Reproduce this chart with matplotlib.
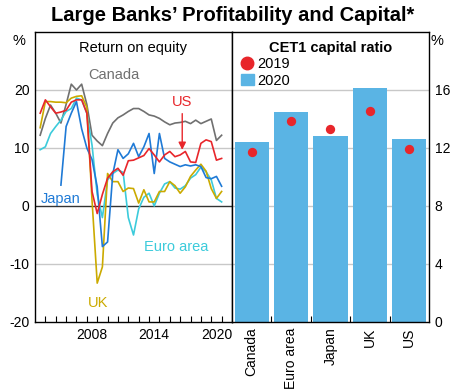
import numpy as np
import matplotlib.pyplot as plt
from matplotlib.lines import Line2D
from matplotlib.patches import Patch

plt.rcParams['font.family'] = ['Liberation Sans', 'DejaVu Sans']

# half-yearly return on equity, %
dates = np.arange(2003.5, 2021.01, 0.5)
canada = [12.2, 15.1, 17.4, 16.0, 14.3, 17.5, 21.0, 20.0, 21.0, 17.5, 12.2, 11.2,
          10.4, 12.5, 14.3, 15.2, 15.7, 16.3, 16.8, 16.8, 16.3, 15.7, 15.5, 15.1,
          14.5, 14.0, 14.3, 14.4, 14.6, 14.2, 14.8, 14.2, 14.6, 15.0, 11.3, 12.2]
us = [16.0, 18.3, 17.1, 16.0, 16.2, 16.5, 17.9, 18.3, 18.3, 16.0, 2.5, -1.3,
      2.0, 4.8, 5.9, 6.5, 5.3, 7.8, 7.9, 8.3, 8.7, 9.9, 8.8, 7.6,
      8.8, 9.4, 8.5, 8.8, 9.4, 7.6, 7.5, 10.8, 11.4, 11.1, 7.9, 8.2]
japan = [np.nan, np.nan, np.nan, np.nan, 3.6, 13.7, 16.0, 18.0, 13.3, 10.0, 8.0, 3.3,
         -7.0, -6.2, 5.5, 9.7, 8.2, 9.0, 10.8, 8.5, 10.2, 12.5, 5.6, 12.5,
         8.2, 7.6, 7.2, 6.8, 7.1, 6.9, 7.1, 6.8, 4.9, 4.7, 5.1, 3.4]
euro = [9.7, 10.2, 12.5, 13.7, 14.8, 16.3, 16.8, 18.6, 18.3, 16.0, 10.5, 2.0,
        -2.0, 4.5, 5.6, 6.2, 5.8, -2.0, -5.0, -0.5, 1.5, 2.2, 0.0, 2.2,
        3.8, 4.2, 3.1, 2.9, 3.5, 4.8, 5.4, 6.7, 5.9, 4.5, 1.3, 0.7]
uk = [13.5, 18.0, 18.0, 17.9, 17.9, 17.8, 18.6, 18.9, 19.0, 17.0, 1.0, -13.3,
      -10.5, 5.6, 4.2, 4.2, 2.5, 3.1, 3.0, 0.5, 2.8, 0.7, 0.7, 2.5,
      2.5, 4.2, 3.5, 2.2, 3.3, 5.1, 6.2, 7.2, 6.0, 3.0, 1.3, 2.5]

# CET1 capital ratio, %
countries = ['Canada', 'Euro area', 'Japan', 'UK', 'US']
cet1_2019 = [11.7, 13.85, 13.3, 14.55, 11.9]
cet1_2020 = [12.4, 14.45, 12.8, 16.15, 12.65]

c_canada = '#707070'
c_us = '#e8262b'
c_japan = '#1f7ad6'
c_euro = '#3ccbdb'
c_uk = '#cbaa00'
c_bar = '#5ab4e4'
c_grid = '#c8c8c8'

fig = plt.figure(figsize=(4.51, 3.91), dpi=100)
fig.text(0.515, 0.96, 'Large Banks\u2019 Profitability and Capital*', ha='center', va='center',
         fontsize=14.5, fontweight='bold')

ax1 = fig.add_axes([0.0776, 0.1765, 0.4368, 0.7417])
ax2 = fig.add_axes([0.5144, 0.1765, 0.4368, 0.7417])

# left panel: return on equity
for yv in [-10, 10, 20]:
    ax1.axhline(yv, color=c_grid, lw=1, zorder=0)
ax1.axhline(0, color='#333333', lw=1, zorder=1)
lw = 1.2
ax1.plot(dates, canada, color=c_canada, lw=lw)
ax1.plot(dates, euro, color=c_euro, lw=lw)
ax1.plot(dates, uk, color=c_uk, lw=lw)
ax1.plot(dates, japan, color=c_japan, lw=lw)
ax1.plot(dates, us, color=c_us, lw=lw)
ax1.set_xlim(2003, 2022)
ax1.set_ylim(-20, 30)
ax1.set_yticks([-20, -10, 0, 10, 20])
ax1.set_yticklabels(['-20', '-10', '0', '10', '20'])
ax1.set_xticks([2008.5, 2014.5, 2020.5])
ax1.set_xticklabels(['2008', '2014', '2020'])
ax1.set_xticks(np.arange(2004, 2022), minor=True)
ax1.tick_params(axis='both', which='major', length=0, labelsize=10, pad=4)
ax1.tick_params(axis='x', which='minor', direction='in', length=4, width=0.8)
ax1.text(0.5, 0.945, 'Return on equity', transform=ax1.transAxes, ha='center',
         va='center', fontsize=10.5)
ax1.text(2010.6, 22.6, 'Canada', color=c_canada, ha='center', va='center', fontsize=10.5)
ax1.text(2017.2, 17.9, 'US', color=c_us, ha='center', va='center', fontsize=10.5)
ax1.annotate('', xy=(2017.2, 9.2), xytext=(2017.2, 16.4),
             arrowprops=dict(arrowstyle='-|>', color=c_us, lw=1.0, mutation_scale=11))
ax1.text(2005.5, 1.2, 'Japan', color=c_japan, ha='center', va='center', fontsize=10.5)
ax1.text(2016.6, -7.1, 'Euro area', color=c_euro, ha='center', va='center', fontsize=10.5)
ax1.text(2009.1, -16.7, 'UK', color=c_uk, ha='center', va='center', fontsize=10.5)

# right panel: CET1 capital ratio
xpos = np.arange(len(countries))
for yv in [4, 8, 12, 16]:
    ax2.axhline(yv, color=c_grid, lw=1, zorder=0)
ax2.bar(xpos, cet1_2020, width=0.87, color=c_bar, zorder=2)
ax2.scatter(xpos, cet1_2019, s=45, color=c_us, zorder=3, linewidths=0)
ax2.set_xlim(-0.5, 4.5)
ax2.set_ylim(0, 20)
ax2.yaxis.tick_right()
ax2.set_yticks([0, 4, 8, 12, 16])
ax2.set_xticks(xpos)
ax2.set_xticklabels(countries, rotation=90)
ax2.set_xticks(xpos[:-1] + 0.5, minor=True)
ax2.tick_params(axis='both', which='major', length=0, labelsize=10, pad=4)
ax2.tick_params(axis='x', which='minor', direction='in', length=4, width=0.8)
ax2.text(0.5, 0.945, 'CET1 capital ratio', transform=ax2.transAxes, ha='center',
         va='center', fontsize=10.5, fontweight='bold')
handles = [Line2D([], [], marker='o', ls='', color=c_us, markersize=9),
           Patch(color=c_bar)]
ax2.legend(handles, ['2019', '2020'], loc='upper left', bbox_to_anchor=(0.0, 0.945),
           frameon=False, fontsize=10.5, handlelength=0.9, handletextpad=0.25,
           labelspacing=0.2, borderaxespad=0.2)

for ax in (ax1, ax2):
    for s in ax.spines.values():
        s.set_linewidth(1.0)

fig.text(0.042, 0.895, '%', ha='center', va='center', fontsize=10.5)
fig.text(0.968, 0.895, '%', ha='center', va='center', fontsize=10.5)

fig.savefig('out.png', dpi=100)
